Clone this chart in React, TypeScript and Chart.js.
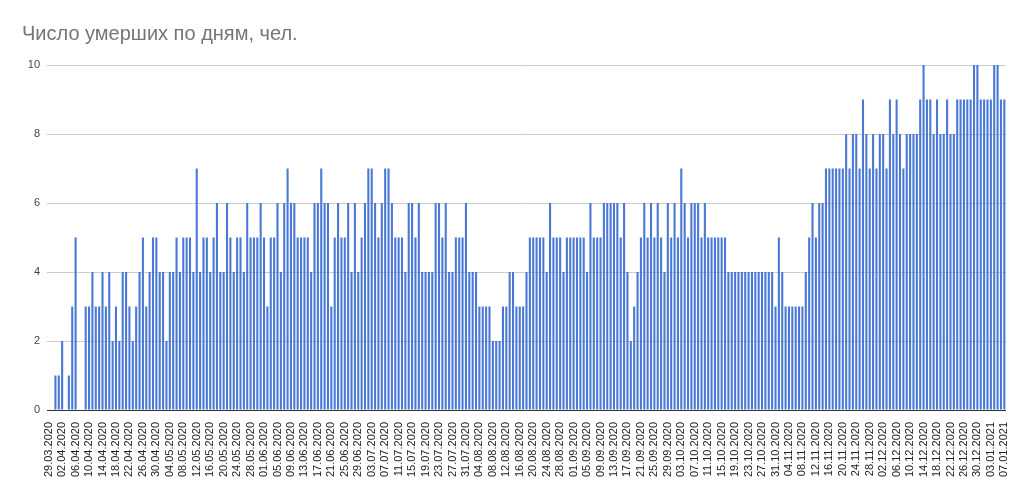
import { useEffect, useRef } from "react";
import { Chart, registerables } from "chart.js";

Chart.register(...registerables);

const TITLE = "Число умерших по дням, чел.";
const FIRST_DAY = { year: 2020, month: 3, day: 29 };

const deathsMar = [0, 0, 1];
const deathsApr = [1, 2, 0, 1, 3, 5, 0, 0, 3, 3, 4, 3, 3, 4, 3, 4, 2, 3, 2, 4, 4, 3, 2, 3, 4, 5, 3, 4, 5, 5];
const deathsMay = [4, 4, 2, 4, 4, 5, 4, 5, 5, 5, 4, 7, 4, 5, 5, 4, 5, 6, 4, 4, 6, 5, 4, 5, 5, 4, 6, 5, 5, 5, 6];
const deathsJun = [5, 3, 5, 5, 6, 4, 6, 7, 6, 6, 5, 5, 5, 5, 4, 6, 6, 7, 6, 6, 3, 5, 6, 5, 5, 6, 4, 6, 4, 5];
const deathsJul = [6, 7, 7, 6, 5, 6, 7, 7, 6, 5, 5, 5, 4, 6, 6, 5, 6, 4, 4, 4, 4, 6, 6, 5, 6, 4, 4, 5, 5, 5, 6];
const deathsAug = [4, 4, 4, 3, 3, 3, 3, 2, 2, 2, 3, 3, 4, 4, 3, 3, 3, 4, 5, 5, 5, 5, 5, 4, 6, 5, 5, 5, 4, 5, 5];
const deathsSep = [5, 5, 5, 5, 4, 6, 5, 5, 5, 6, 6, 6, 6, 6, 5, 6, 4, 2, 3, 4, 5, 6, 5, 6, 5, 6, 5, 4, 6, 5];
const deathsOct = [6, 5, 7, 6, 5, 6, 6, 6, 5, 6, 5, 5, 5, 5, 5, 5, 4, 4, 4, 4, 4, 4, 4, 4, 4, 4, 4, 4, 4, 4, 3];
const deathsNov = [5, 4, 3, 3, 3, 3, 3, 3, 4, 5, 6, 5, 6, 6, 7, 7, 7, 7, 7, 7, 8, 7, 8, 8, 7, 9, 8, 7, 8, 7];
const deathsDec = [8, 8, 7, 9, 8, 9, 8, 7, 8, 8, 8, 8, 9, 10, 9, 9, 8, 9, 8, 8, 9, 8, 8, 9, 9, 9, 9, 9, 10, 10, 9];
const deathsJan = [9, 9, 9, 10, 10, 9, 9];

const deaths = [
  ...deathsMar, ...deathsApr, ...deathsMay, ...deathsJun, ...deathsJul, ...deathsAug,
  ...deathsSep, ...deathsOct, ...deathsNov, ...deathsDec, ...deathsJan,
];

const LABEL_EVERY = 4;
const Y_MIN = 0;
const Y_MAX = 10;
const Y_STEP = 2;

function buildDateLabels(count: number): string[] {
  const out: string[] = [];
  const d = new Date(FIRST_DAY.year, FIRST_DAY.month - 1, FIRST_DAY.day, 12);
  for (let i = 0; i < count; i++) {
    const dd = String(d.getDate()).padStart(2, "0");
    const mm = String(d.getMonth() + 1).padStart(2, "0");
    out.push(`${dd}.${mm}.${d.getFullYear()}`);
    d.setDate(d.getDate() + 1);
  }
  return out;
}

const dateLabels = buildDateLabels(deaths.length);

export default function App() {
  const canvasRef = useRef<HTMLCanvasElement | null>(null);

  useEffect(() => {
    if (!canvasRef.current) return;
    const chart = new Chart(canvasRef.current, {
      type: "bar",
      data: {
        labels: dateLabels,
        datasets: [
          {
            label: TITLE,
            data: deaths,
            backgroundColor: "#4a78d6",
            borderWidth: 0,
            barPercentage: 0.62,
            categoryPercentage: 1,
          },
        ],
      },
      options: {
        animation: false,
        responsive: true,
        maintainAspectRatio: false,
        layout: { padding: { left: 22, right: 23, top: 0, bottom: 0 } },
        plugins: {
          legend: { display: false },
          tooltip: { enabled: false },
          title: {
            display: true,
            text: TITLE,
            align: "start",
            color: "#757575",
            font: { family: "'Liberation Sans', Arial, sans-serif", size: 20, weight: "normal" },
            padding: { top: 22, bottom: 19 },
          },
        },
        scales: {
          x: {
            grid: { display: false },
            border: { display: false },
            ticks: {
              autoSkip: false,
              minRotation: 90,
              maxRotation: 90,
              padding: 4,
              color: "#222222",
              font: { family: "'Liberation Sans', Arial, sans-serif", size: 11 },
              callback: (_v: any, idx: number) => (idx % LABEL_EVERY === 0 ? dateLabels[idx] : ""),
            },
            afterFit: (scale: any) => {
              scale.height = 89;
            },
          },
          y: {
            min: Y_MIN,
            max: Y_MAX,
            border: { display: false },
            grid: {
              drawTicks: false,
              color: (ctx: any) => (ctx.tick && ctx.tick.value === 0 ? "#333333" : "#cccccc"),
              lineWidth: 1,
            },
            ticks: {
              stepSize: Y_STEP,
              padding: 7,
              color: "#444444",
              font: { family: "'Liberation Sans', Arial, sans-serif", size: 11 },
            },
            afterFit: (scale: any) => {
              scale.width = 25;
            },
          },
        },
      },
    });
    return () => chart.destroy();
  }, []);

  return (
    <div style={{ position: "absolute", left: 0, top: 0, width: 1029, height: 499, background: "#ffffff" }}>
      <canvas ref={canvasRef} />
    </div>
  );
}
